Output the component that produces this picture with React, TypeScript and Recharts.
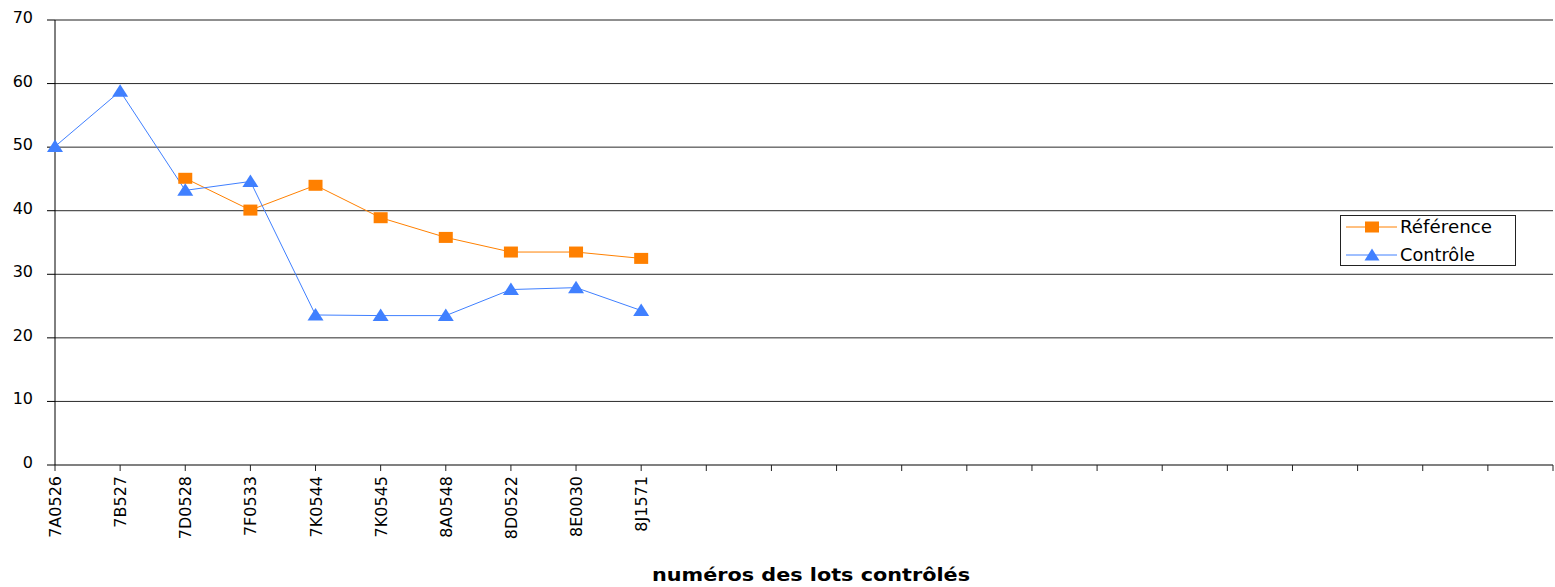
import { CartesianGrid, Legend, Line, LineChart, ReferenceLine, XAxis, YAxis } from "recharts";

// lot numbers on the x axis (the axis keeps 14 empty slots after the last lot)
const lots = [
  "7A0526", "7B527", "7D0528", "7F0533", "7K0544",
  "7K0545", "8A0548", "8D0522", "8E0030", "8J1571",
  "", "", "", "", "", "", "", "", "", "", "", "", "", "",
];
const referenceValues = [null, null, 45.1, 40.1, 44.0, 38.9, 35.8, 33.5, 33.5, 32.5];
const controlValues = [50.1, 58.8, 43.2, 44.6, 23.6, 23.5, 23.5, 27.6, 27.9, 24.3];
const yTicks = [0, 10, 20, 30, 40, 50, 60, 70];
const seriesNames = ["Référence", "Contrôle"];

const ORANGE = "#FF8000";
const BLUE = "#4080FF";
const FONT = "DejaVu Sans";

const data = lots.map((lot, i) => ({
  lot,
  ref: referenceValues[i] ?? null,
  ctl: controlValues[i] ?? null,
}));

const SquareDot = (props: any) => {
  const { cx, cy } = props;
  if (cx == null || cy == null) return null;
  return <rect x={cx - 7} y={cy - 5.5} width={14} height={11} fill={ORANGE} />;
};

const TriangleDot = (props: any) => {
  const { cx, cy } = props;
  if (cx == null || cy == null) return null;
  return <path d={`M${cx},${cy - 7} L${cx + 8},${cy + 5.5} L${cx - 8},${cy + 5.5} Z`} fill={BLUE} />;
};

const LotTick = (props: any) => {
  const { x, y, payload } = props;
  return (
    <text
      transform={`translate(${x + 6},${y + 3}) rotate(-90)`}
      textAnchor="end"
      fontSize={16}
      fontFamily={FONT}
      fill="#000"
    >
      {payload.value}
    </text>
  );
};

// value labels sit left of the axis, right edge at x=33
const ValueTick = (props: any) => {
  const { y, payload } = props;
  return (
    <text x={33} y={y + 3} textAnchor="end" fontSize={16} fontFamily={FONT} fill="#000">
      {payload.value}
    </text>
  );
};

const LegendBox = () => (
  <svg width={177} height={52} style={{ display: "block" }}>
    <rect x={0.5} y={0.5} width={175} height={50} fill="#fff" stroke="#222" />
    <line x1={6} y1={12} x2={57} y2={12} stroke={ORANGE} />
    <rect x={25} y={6.5} width={14} height={11} fill={ORANGE} />
    <text x={60} y={18} fontSize={17} fontFamily={FONT} textLength={92} lengthAdjust="spacingAndGlyphs">
      {seriesNames[0]}
    </text>
    <line x1={6} y1={40} x2={57} y2={40} stroke={BLUE} />
    <path d="M32,33.5 L39.5,45.5 L24.5,45.5 Z" fill={BLUE} />
    <text x={60} y={46} fontSize={17} fontFamily={FONT} textLength={75} lengthAdjust="spacingAndGlyphs">
      {seriesNames[1]}
    </text>
  </svg>
);

export default function App() {
  return (
    <div style={{ position: "absolute", left: 0, top: 0, background: "#fff" }}>
      <LineChart
        width={1555}
        height={587}
        data={data}
        margin={{ top: 20, right: 2, left: 0, bottom: 0 }}
      >
        <CartesianGrid vertical={false} stroke="#2a2a2a" />
        <ReferenceLine y={70} stroke="#8a8a8a" />
        <XAxis
          dataKey="lot"
          interval={0}
          tickSize={6}
          tickLine={{ stroke: "#222" }}
          axisLine={{ stroke: "#808080", strokeWidth: 2 }}
          tick={<LotTick />}
          height={122}
          label={{
            content: () => (
              <text
                x={811}
                y={581}
                textAnchor="middle"
                fontSize={17}
                fontWeight="bold"
                fontFamily={FONT}
                textLength={318}
                lengthAdjust="spacingAndGlyphs"
              >
                numéros des lots contrôlés
              </text>
            ),
          }}
        />
        <YAxis
          width={55}
          domain={[0, 70]}
          ticks={yTicks}
          tickSize={8}
          axisLine={{ stroke: "#000" }}
          tickLine={{ stroke: "#000" }}
          tick={<ValueTick />}
        />
        <YAxis
          yAxisId="border"
          orientation="right"
          width={0}
          domain={[0, 70]}
          tick={false}
          tickLine={false}
          axisLine={{ stroke: "#8a8a8a" }}
        />
        <Line
          dataKey="ref"
          name={seriesNames[0]}
          stroke={ORANGE}
          strokeWidth={1}
          dot={<SquareDot />}
          activeDot={false}
          connectNulls={false}
          isAnimationActive={false}
        />
        <Line
          dataKey="ctl"
          name={seriesNames[1]}
          stroke={BLUE}
          strokeWidth={1}
          dot={<TriangleDot />}
          activeDot={false}
          isAnimationActive={false}
        />
        <Legend
          layout="vertical"
          align="center"
          verticalAlign="middle"
          content={<LegendBox />}
          wrapperStyle={{ left: 1340, top: 215, width: 177, height: 52 }}
        />
      </LineChart>
    </div>
  );
}
